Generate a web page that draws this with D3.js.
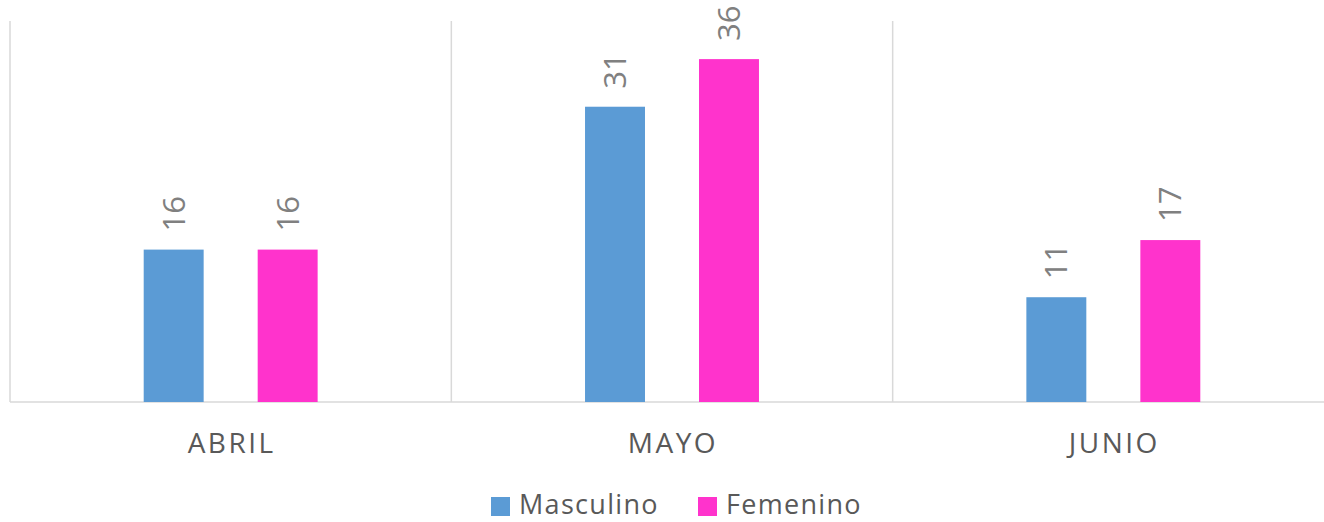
<!DOCTYPE html>
<html>
<head>
<meta charset="utf-8">
<script src="https://cdn.jsdelivr.net/npm/d3@7"></script>
<style>
  body { margin: 0; background: #fff; }
  text { font-family: "Open Sans", "Liberation Sans", sans-serif; }
</style>
</head>
<body>
<div id="container"></div>
<script>
const WIDTH = 1324;
const HEIGHT = 522;

// datos
const meses = ['ABRIL', 'MAYO', 'JUNIO'];
const series = ['Masculino', 'Femenino'];
const masculino = [16, 31, 11];
const femenino = [16, 36, 17];
const colores = ['#5b9bd5', '#ff33cc'];

const tabla = meses.map((m, i) => ({ mes: m, valores: [masculino[i], femenino[i]] }));

const svg = d3.select('#container')
  .append('svg')
    .attr('width', WIDTH)
    .attr('height', HEIGHT);

// area del grafico (el borde derecho queda fuera de la imagen)
const PLOT = { LEFT: 10, RIGHT: 1334, TOP: 21, BOTTOM: 402 };

const x = d3.scaleBand().domain(meses).range([PLOT.LEFT, PLOT.RIGHT]);
const xs = d3.scaleBand().domain(series).range([0, x.bandwidth()]).paddingInner(0.474).paddingOuter(1.173);
const y = d3.scaleLinear().domain([0, 40]).range([PLOT.BOTTOM, PLOT.TOP]);

// lineas verticales entre categorias
const bordes = meses.map(m => x(m)).concat([PLOT.RIGHT]);
svg.selectAll('.grid')
  .data(bordes)
  .enter()
  .append('line')
    .attr('class', 'grid')
    .attr('x1', d => d).attr('x2', d => d)
    .attr('y1', PLOT.TOP).attr('y2', PLOT.BOTTOM)
    .attr('stroke', '#d9d9d9')
    .attr('stroke-width', 1.5);

// eje
svg.append('line')
  .attr('x1', PLOT.LEFT).attr('x2', PLOT.RIGHT)
  .attr('y1', PLOT.BOTTOM).attr('y2', PLOT.BOTTOM)
  .attr('stroke', '#d9d9d9')
  .attr('stroke-width', 1.5);

const grupos = svg.selectAll('.mes')
  .data(tabla)
  .enter()
  .append('g')
    .attr('class', 'mes')
    .attr('transform', d => `translate(${x(d.mes)},0)`);

grupos.selectAll('rect')
  .data(d => d.valores.map((v, i) => ({ serie: series[i], valor: v, i })))
  .enter()
  .append('rect')
    .attr('x', d => xs(d.serie))
    .attr('width', xs.bandwidth())
    .attr('y', d => y(d.valor))
    .attr('height', d => PLOT.BOTTOM - y(d.valor))
    .attr('fill', d => colores[d.i]);

// etiquetas de valor, giradas
grupos.selectAll('.etiqueta')
  .data(d => d.valores.map((v, i) => ({ serie: series[i], valor: v })))
  .enter()
  .append('text')
    .attr('class', 'etiqueta')
    .attr('transform', d => `translate(${xs(d.serie) + xs.bandwidth() / 2 + 11},${y(d.valor) - 18}) rotate(-90)`)
    .attr('text-anchor', 'start')
    .attr('font-size', 31)
    .attr('fill', '#808080')
    .text(d => d.valor);

// etiquetas de categoria
svg.selectAll('.cat')
  .data(meses)
  .enter()
  .append('text')
    .attr('class', 'cat')
    .attr('x', d => x(d) + x.bandwidth() / 2 + 1)
    .attr('y', 453)
    .attr('text-anchor', 'middle')
    .attr('font-size', 28)
    .attr('letter-spacing', 2.5)
    .attr('fill', '#595959')
    .text(d => d);

// leyenda
const leyX = [491, 698];
const leyenda = svg.selectAll('.ley')
  .data(series)
  .enter()
  .append('g')
    .attr('class', 'ley')
    .attr('transform', (d, i) => `translate(${leyX[i]},497)`);

leyenda.append('rect')
  .attr('width', 19).attr('height', 19)
  .attr('fill', (d, i) => colores[i]);

leyenda.append('text')
  .attr('x', 28)
  .attr('y', 17)
  .attr('font-size', 27)
  .attr('letter-spacing', 1.3)
  .attr('fill', '#595959')
  .text(d => d);
</script>
</body>
</html>
